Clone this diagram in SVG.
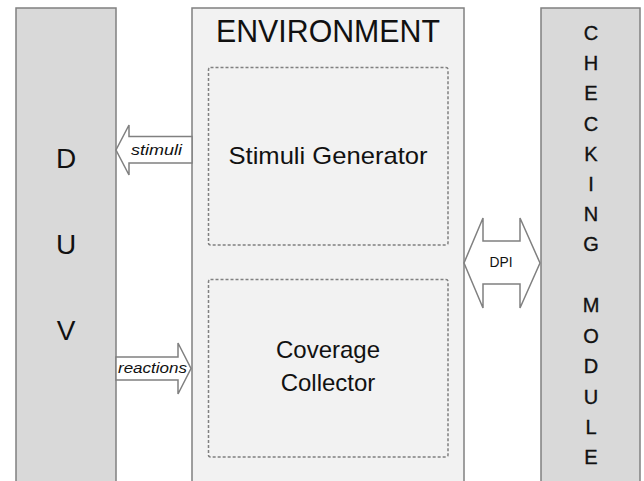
<svg xmlns="http://www.w3.org/2000/svg" width="644" height="481" viewBox="0 0 644 481">
<style>
.blk{stroke:#808080;stroke-width:1.5}
.dark{fill:#d9d9d9}
.light{fill:#f2f2f2}
.dash{fill:none;stroke:#808080;stroke-width:1.5;stroke-dasharray:3 2}
.arr{fill:#ffffff;stroke:#808080;stroke-width:1.5;stroke-linejoin:miter}
text{font-family:"Liberation Sans",Arial,sans-serif;fill:#111}
.big{font-size:28px;text-anchor:middle}
.mid{font-size:24px;text-anchor:middle}
.col{font-size:20px;text-anchor:middle;stroke:#111;stroke-width:0.35}
.lab{font-size:15px;font-style:italic}
</style>
<rect width="644" height="481" fill="#ffffff"/>
<g id="duv">
<rect class="blk dark" x="16" y="8" width="100" height="490"/>
<text class="big" x="66" y="168">D</text>
<text class="big" x="66" y="254">U</text>
<text class="big" x="66" y="340">V</text>
</g>
<g id="environment">
<rect class="blk light" x="192" y="8" width="272" height="490"/>
<text x="328" y="42" font-size="31" text-anchor="middle" textLength="224" lengthAdjust="spacingAndGlyphs">ENVIRONMENT</text>
</g>
<g id="stimuli-generator">
<rect class="dash" x="208.5" y="67.5" width="239.5" height="177.5" rx="2"/>
<text class="mid" x="328" y="164" textLength="199" lengthAdjust="spacingAndGlyphs">Stimuli Generator</text>
</g>
<g id="coverage-collector">
<rect class="dash" x="208.5" y="279.5" width="239.5" height="177.5" rx="2"/>
<text class="mid" x="328" y="358">Coverage</text>
<text class="mid" x="328" y="391">Collector</text>
</g>
<g id="checking-module">
<rect class="blk dark" x="541" y="8" width="99" height="490"/>
<text class="col" x="591" y="40">C</text>
<text class="col" x="591" y="70">H</text>
<text class="col" x="591" y="100">E</text>
<text class="col" x="591" y="131">C</text>
<text class="col" x="591" y="161">K</text>
<text class="col" x="591" y="191">I</text>
<text class="col" x="591" y="221">N</text>
<text class="col" x="591" y="251">G</text>
<text class="col" x="591" y="312">M</text>
<text class="col" x="591" y="343">O</text>
<text class="col" x="591" y="373">D</text>
<text class="col" x="591" y="404">U</text>
<text class="col" x="591" y="434">L</text>
<text class="col" x="591" y="464">E</text>
</g>
<g id="connectors">
<polygon class="arr" points="192,136.5 129,136.5 129,125 116,150 129,175 129,163 192,163"/>
<text class="lab" x="131" y="155" textLength="51" lengthAdjust="spacingAndGlyphs">stimuli</text>
<polygon class="arr" points="116,357 178,357 178,343 191,368.5 178,394 178,380 116,380"/>
<text class="lab" x="118" y="373" textLength="69" lengthAdjust="spacingAndGlyphs">reactions</text>
<polygon class="arr" points="464,263 483,218 483,241 520,241 520,218 540,263 520,308 520,284 483,284 483,308"/>
<text x="501" y="267" font-size="14" text-anchor="middle" textLength="23" lengthAdjust="spacingAndGlyphs">DPI</text>
</g>
</svg>
